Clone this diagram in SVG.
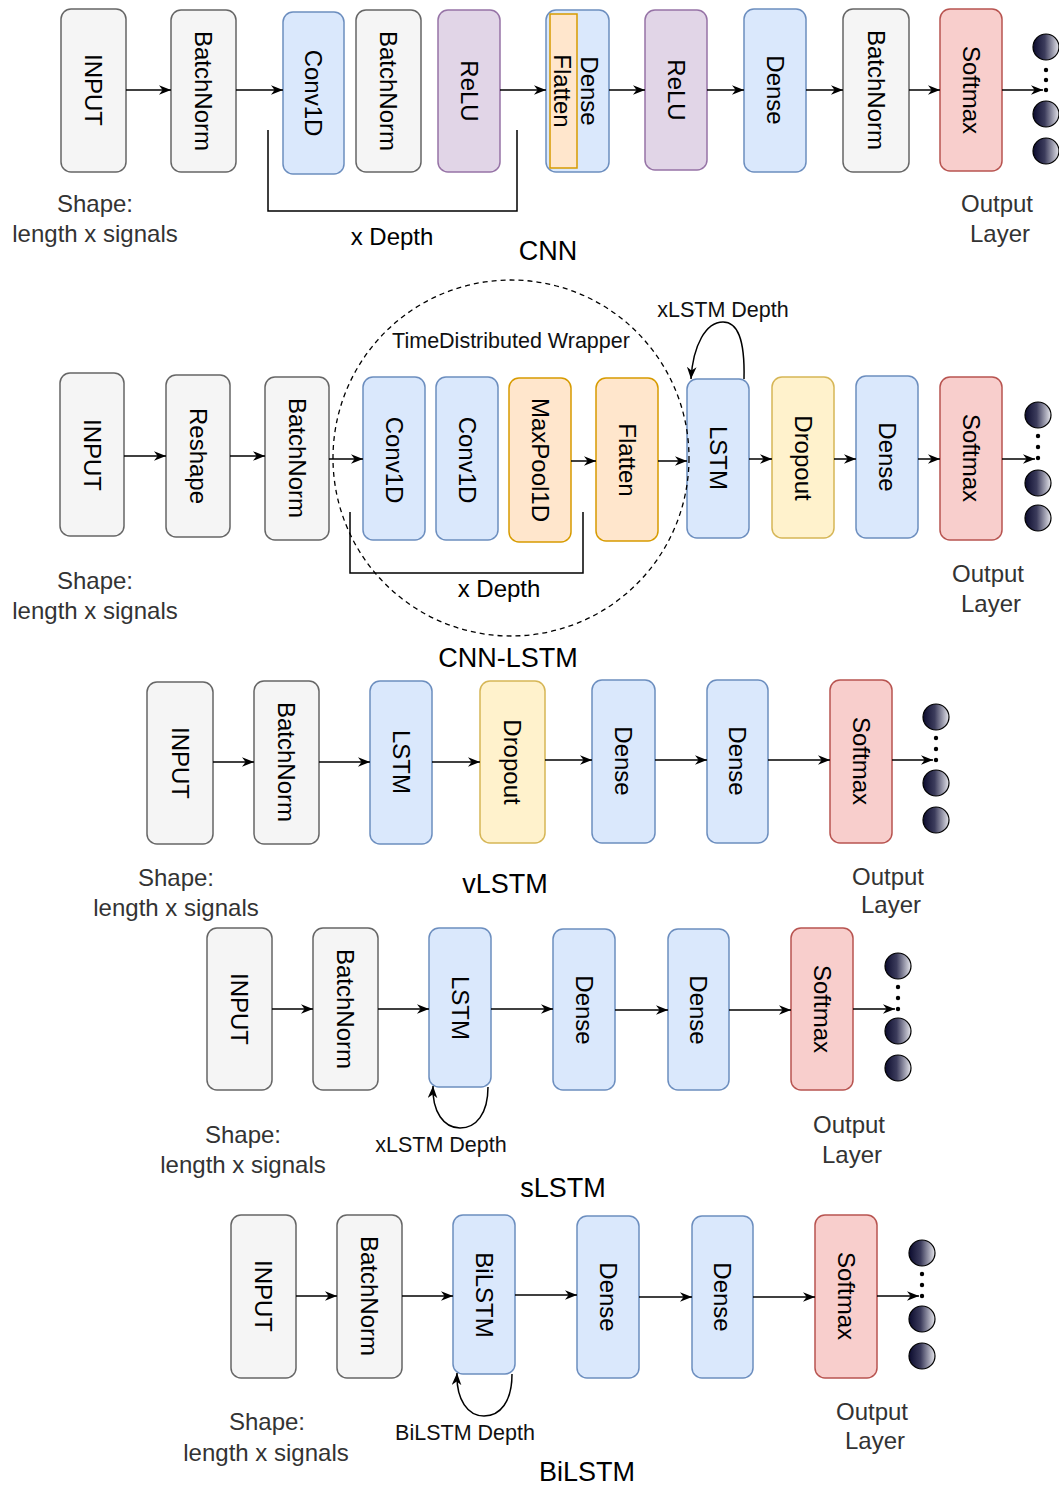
<svg xmlns="http://www.w3.org/2000/svg" width="1059" height="1487" viewBox="0 0 1059 1487">
<style>
.n{stroke-width:1.5}
.g{fill:#f5f5f5;stroke:#666666}
.b{fill:#dae8fc;stroke:#6c8ebf}
.p{fill:#e1d5e7;stroke:#9673a6}
.o{fill:#ffe6cc;stroke:#d79b00}
.y{fill:#fff2cc;stroke:#d6b656}
.r{fill:#f8cecc;stroke:#b85450}
.t{font-family:"Liberation Sans",Arial,sans-serif;font-size:24px;fill:#000;text-anchor:middle;dominant-baseline:central}
.l{font-family:"Liberation Sans",Arial,sans-serif;font-size:24px;fill:#333;text-anchor:middle}
.s{font-family:"Liberation Sans",Arial,sans-serif;font-size:21.5px;fill:#111;text-anchor:middle}
.h{font-family:"Liberation Sans",Arial,sans-serif;font-size:27px;fill:#000;text-anchor:middle}
.c{fill:none;stroke:#000;stroke-width:1.5}
.a{fill:none;stroke:#000;stroke-width:1.5;marker-end:url(#arr)}
.ci{fill:url(#cg);stroke:#000;stroke-width:1.2}
.d{fill:#000}
</style>
<defs>
<marker id="arr" viewBox="0 0 10 8" refX="10" refY="4" markerWidth="12" markerHeight="10" orient="auto" markerUnits="userSpaceOnUse"><path d="M0,0 L10,4 L0,8 L3,4 Z" fill="#000"/></marker>
<linearGradient id="cg" x1="0" y1="0" x2="1" y2="0"><stop offset="0" stop-color="#0b0b2e"/><stop offset="0.45" stop-color="#3c3c5c"/><stop offset="1" stop-color="#e6e6ec"/></linearGradient>
</defs>

<!-- ROW 1: CNN -->
<g id="cnn-input"><rect class="n g" x="61" y="9" width="65" height="163" rx="10"/><text class="t" x="93.5" y="90" transform="rotate(90 93.5 90)">INPUT</text></g>
<g id="cnn-bn1"><rect class="n g" x="171" y="10" width="65" height="162" rx="10"/><text class="t" x="203.5" y="91" transform="rotate(90 203.5 91)">BatchNorm</text></g>
<g id="cnn-conv"><rect class="n b" x="283" y="12" width="61" height="162" rx="10"/><text class="t" x="313.5" y="93" transform="rotate(90 313.5 93)">Conv1D</text></g>
<g id="cnn-bn2"><rect class="n g" x="356" y="10" width="65" height="162" rx="10"/><text class="t" x="388.5" y="91" transform="rotate(90 388.5 91)">BatchNorm</text></g>
<g id="cnn-relu1"><rect class="n p" x="438" y="10" width="62" height="162" rx="10"/><text class="t" x="469" y="91" transform="rotate(90 469 91)">ReLU</text></g>
<g id="cnn-dense-flatten"><rect class="n b" x="546" y="10" width="63" height="162" rx="10"/><rect class="n o" x="550" y="14" width="27" height="154"/><text class="t" x="589" y="91" transform="rotate(90 589 91)">Dense</text><text class="t" x="562" y="91" transform="rotate(90 562 91)">Flatten</text></g>
<g id="cnn-relu2"><rect class="n p" x="645" y="10" width="62" height="160" rx="10"/><text class="t" x="676" y="90" transform="rotate(90 676 90)">ReLU</text></g>
<g id="cnn-dense"><rect class="n b" x="744" y="9" width="62" height="163" rx="10"/><text class="t" x="775" y="90" transform="rotate(90 775 90)">Dense</text></g>
<g id="cnn-bn3"><rect class="n g" x="843" y="9" width="66" height="163" rx="10"/><text class="t" x="876" y="90" transform="rotate(90 876 90)">BatchNorm</text></g>
<g id="cnn-softmax"><rect class="n r" x="940" y="9" width="62" height="162" rx="10"/><text class="t" x="971" y="90" transform="rotate(90 971 90)">Softmax</text></g>
<g id="cnn-output"><circle class="ci" cx="1046" cy="47" r="13"/><circle class="ci" cx="1046" cy="114" r="13"/><circle class="ci" cx="1046" cy="151" r="13"/><circle class="d" cx="1046" cy="70" r="2.2"/><circle class="d" cx="1046" cy="80" r="2.2"/><circle class="d" cx="1046" cy="90" r="2.2"/></g>
<g id="cnn-labels">
<text class="l" x="95" y="212">Shape:</text><text class="l" x="95" y="242">length x signals</text>
<text class="l" x="997" y="212">Output</text><text class="l" x="1000" y="242">Layer</text>
<text class="l" x="392" y="245" style="fill:#000">x Depth</text>
<text class="h" x="548" y="260">CNN</text>
</g>

<!-- ROW 2: CNN-LSTM -->
<g id="cl-input"><rect class="n g" x="60" y="373" width="64" height="163" rx="10"/><text class="t" x="92" y="455" transform="rotate(90 92 455)">INPUT</text></g>
<g id="cl-reshape"><rect class="n g" x="166" y="375" width="64" height="162" rx="10"/><text class="t" x="198" y="456" transform="rotate(90 198 456)">Reshape</text></g>
<g id="cl-bn"><rect class="n g" x="265" y="377" width="64" height="163" rx="10"/><text class="t" x="297" y="458" transform="rotate(90 297 458)">BatchNorm</text></g>
<g id="cl-conv1"><rect class="n b" x="363" y="377" width="62" height="163" rx="10"/><text class="t" x="394" y="460" transform="rotate(90 394 460)">Conv1D</text></g>
<g id="cl-conv2"><rect class="n b" x="436" y="377" width="62" height="163" rx="10"/><text class="t" x="467" y="460" transform="rotate(90 467 460)">Conv1D</text></g>
<g id="cl-maxpool"><rect class="n o" x="509" y="378" width="62" height="164" rx="10"/><text class="t" x="540" y="460" transform="rotate(90 540 460)">MaxPool1D</text></g>
<g id="cl-flatten"><rect class="n o" x="596" y="378" width="62" height="163" rx="10"/><text class="t" x="627" y="460" transform="rotate(90 627 460)">Flatten</text></g>
<g id="cl-lstm"><rect class="n b" x="687" y="379" width="62" height="159" rx="10"/><text class="t" x="718" y="458" transform="rotate(90 718 458)">LSTM</text></g>
<g id="cl-dropout"><rect class="n y" x="772" y="377" width="62" height="161" rx="10"/><text class="t" x="803" y="458" transform="rotate(90 803 458)">Dropout</text></g>
<g id="cl-dense"><rect class="n b" x="856" y="376" width="62" height="162" rx="10"/><text class="t" x="887" y="457" transform="rotate(90 887 457)">Dense</text></g>
<g id="cl-softmax"><rect class="n r" x="940" y="377" width="62" height="163" rx="10"/><text class="t" x="971" y="458" transform="rotate(90 971 458)">Softmax</text></g>
<g id="cl-output"><circle class="ci" cx="1038" cy="415" r="13"/><circle class="ci" cx="1038" cy="483" r="13"/><circle class="ci" cx="1038" cy="518" r="13"/><circle class="d" cx="1038" cy="436" r="2.2"/><circle class="d" cx="1038" cy="447" r="2.2"/><circle class="d" cx="1038" cy="458" r="2.2"/></g>
<g id="cl-wrapper"><circle cx="511" cy="458" r="178" fill="none" stroke="#000" stroke-width="1.3" stroke-dasharray="5,4"/></g>
<g id="cl-labels">
<text class="s" x="511" y="348">TimeDistributed Wrapper</text>
<text class="s" x="723" y="317">xLSTM Depth</text>
<text class="l" x="95" y="589">Shape:</text><text class="l" x="95" y="619">length x signals</text>
<text class="l" x="988" y="582">Output</text><text class="l" x="991" y="612">Layer</text>
<text class="l" x="499" y="597" style="fill:#000">x Depth</text>
<text class="h" x="508" y="667">CNN-LSTM</text>
</g>

<!-- ROW 3: vLSTM -->
<g id="v-input"><rect class="n g" x="147" y="682" width="66" height="162" rx="10"/><text class="t" x="180" y="763" transform="rotate(90 180 763)">INPUT</text></g>
<g id="v-bn"><rect class="n g" x="254" y="681" width="65" height="163" rx="10"/><text class="t" x="286.5" y="762" transform="rotate(90 286.5 762)">BatchNorm</text></g>
<g id="v-lstm"><rect class="n b" x="370" y="681" width="62" height="163" rx="10"/><text class="t" x="401" y="762" transform="rotate(90 401 762)">LSTM</text></g>
<g id="v-dropout"><rect class="n y" x="480" y="681" width="65" height="162" rx="10"/><text class="t" x="512.5" y="762" transform="rotate(90 512.5 762)">Dropout</text></g>
<g id="v-dense1"><rect class="n b" x="592" y="680" width="63" height="163" rx="10"/><text class="t" x="623.5" y="761" transform="rotate(90 623.5 761)">Dense</text></g>
<g id="v-dense2"><rect class="n b" x="707" y="680" width="61" height="163" rx="10"/><text class="t" x="737.5" y="761" transform="rotate(90 737.5 761)">Dense</text></g>
<g id="v-softmax"><rect class="n r" x="830" y="680" width="62" height="163" rx="10"/><text class="t" x="861" y="761" transform="rotate(90 861 761)">Softmax</text></g>
<g id="v-output"><circle class="ci" cx="936" cy="717" r="13"/><circle class="ci" cx="936" cy="783" r="13"/><circle class="ci" cx="936" cy="820" r="13"/><circle class="d" cx="936" cy="738" r="2.2"/><circle class="d" cx="936" cy="749" r="2.2"/><circle class="d" cx="936" cy="760" r="2.2"/></g>
<g id="v-labels">
<text class="l" x="176" y="886">Shape:</text><text class="l" x="176" y="916">length x signals</text>
<text class="l" x="888" y="885">Output</text><text class="l" x="891" y="913">Layer</text>
<text class="h" x="505" y="893">vLSTM</text>
</g>

<!-- ROW 4: sLSTM -->
<g id="s-input"><rect class="n g" x="207" y="928" width="65" height="162" rx="10"/><text class="t" x="239.5" y="1009" transform="rotate(90 239.5 1009)">INPUT</text></g>
<g id="s-bn"><rect class="n g" x="313" y="928" width="65" height="162" rx="10"/><text class="t" x="345.5" y="1009" transform="rotate(90 345.5 1009)">BatchNorm</text></g>
<g id="s-lstm"><rect class="n b" x="429" y="928" width="62" height="159" rx="10"/><text class="t" x="460" y="1008" transform="rotate(90 460 1008)">LSTM</text></g>
<g id="s-dense1"><rect class="n b" x="553" y="929" width="62" height="161" rx="10"/><text class="t" x="584" y="1010" transform="rotate(90 584 1010)">Dense</text></g>
<g id="s-dense2"><rect class="n b" x="668" y="929" width="61" height="161" rx="10"/><text class="t" x="698.5" y="1010" transform="rotate(90 698.5 1010)">Dense</text></g>
<g id="s-softmax"><rect class="n r" x="791" y="928" width="62" height="162" rx="10"/><text class="t" x="822" y="1009" transform="rotate(90 822 1009)">Softmax</text></g>
<g id="s-output"><circle class="ci" cx="898" cy="966" r="13"/><circle class="ci" cx="898" cy="1031" r="13"/><circle class="ci" cx="898" cy="1068" r="13"/><circle class="d" cx="898" cy="987" r="2.2"/><circle class="d" cx="898" cy="998" r="2.2"/><circle class="d" cx="898" cy="1009" r="2.2"/></g>
<g id="s-labels">
<text class="l" x="243" y="1143">Shape:</text><text class="l" x="243" y="1173">length x signals</text>
<text class="s" x="441" y="1152">xLSTM Depth</text>
<text class="l" x="849" y="1133">Output</text><text class="l" x="852" y="1163">Layer</text>
<text class="h" x="563" y="1197">sLSTM</text>
</g>

<!-- ROW 5: BiLSTM -->
<g id="bi-input"><rect class="n g" x="231" y="1215" width="65" height="163" rx="10"/><text class="t" x="263.5" y="1296" transform="rotate(90 263.5 1296)">INPUT</text></g>
<g id="bi-bn"><rect class="n g" x="337" y="1215" width="65" height="163" rx="10"/><text class="t" x="369.5" y="1296" transform="rotate(90 369.5 1296)">BatchNorm</text></g>
<g id="bi-bilstm"><rect class="n b" x="453" y="1215" width="62" height="159" rx="10"/><text class="t" x="484" y="1295" transform="rotate(90 484 1295)">BiLSTM</text></g>
<g id="bi-dense1"><rect class="n b" x="577" y="1216" width="62" height="162" rx="10"/><text class="t" x="608" y="1297" transform="rotate(90 608 1297)">Dense</text></g>
<g id="bi-dense2"><rect class="n b" x="692" y="1216" width="61" height="162" rx="10"/><text class="t" x="722.5" y="1297" transform="rotate(90 722.5 1297)">Dense</text></g>
<g id="bi-softmax"><rect class="n r" x="815" y="1215" width="62" height="163" rx="10"/><text class="t" x="846" y="1296" transform="rotate(90 846 1296)">Softmax</text></g>
<g id="bi-output"><circle class="ci" cx="922" cy="1253" r="13"/><circle class="ci" cx="922" cy="1319" r="13"/><circle class="ci" cx="922" cy="1356" r="13"/><circle class="d" cx="922" cy="1274" r="2.2"/><circle class="d" cx="922" cy="1285" r="2.2"/><circle class="d" cx="922" cy="1296" r="2.2"/></g>
<g id="bi-labels">
<text class="l" x="267" y="1430">Shape:</text><text class="l" x="266" y="1461">length x signals</text>
<text class="s" x="465" y="1440">BiLSTM Depth</text>
<text class="l" x="872" y="1420">Output</text><text class="l" x="875" y="1449">Layer</text>
<text class="h" x="587" y="1481">BiLSTM</text>
</g>

<!-- CONNECTORS -->
<g id="connectors">
<line class="a" x1="126" y1="90" x2="171" y2="90"/>
<line class="a" x1="236" y1="90" x2="283" y2="90"/>
<line class="a" x1="500" y1="90" x2="546" y2="90"/>
<line class="a" x1="609" y1="90" x2="645" y2="90"/>
<line class="a" x1="707" y1="90" x2="744" y2="90"/>
<line class="a" x1="806" y1="90" x2="843" y2="90"/>
<line class="a" x1="909" y1="90" x2="940" y2="90"/>
<line class="a" x1="1002" y1="90" x2="1043" y2="90"/>
<polyline class="c" points="268,130 268,211 517,211 517,130"/>

<line class="a" x1="124" y1="456" x2="166" y2="456"/>
<line class="a" x1="230" y1="456" x2="265" y2="456"/>
<line class="a" x1="329" y1="459" x2="363" y2="459"/>
<line class="a" x1="571" y1="461" x2="596" y2="461"/>
<line class="a" x1="658" y1="461" x2="687" y2="461"/>
<line class="a" x1="749" y1="459" x2="772" y2="459"/>
<line class="a" x1="834" y1="459" x2="856" y2="459"/>
<line class="a" x1="918" y1="459" x2="940" y2="459"/>
<line class="a" x1="1002" y1="459" x2="1035" y2="459"/>
<polyline class="c" points="350,512 350,573 583,573 583,512"/>
<path class="a" d="M744,379 C745,338 737,322 723,322 C706,322 693,345 691,379"/>

<line class="a" x1="213" y1="762" x2="254" y2="762"/>
<line class="a" x1="319" y1="762" x2="370" y2="762"/>
<line class="a" x1="432" y1="762" x2="480" y2="762"/>
<line class="a" x1="545" y1="760" x2="592" y2="760"/>
<line class="a" x1="655" y1="760" x2="707" y2="760"/>
<line class="a" x1="768" y1="760" x2="830" y2="760"/>
<line class="a" x1="892" y1="760" x2="933" y2="760"/>

<line class="a" x1="272" y1="1009" x2="313" y2="1009"/>
<line class="a" x1="378" y1="1009" x2="429" y2="1009"/>
<line class="a" x1="491" y1="1009" x2="553" y2="1009"/>
<line class="a" x1="615" y1="1010" x2="668" y2="1010"/>
<line class="a" x1="729" y1="1010" x2="791" y2="1010"/>
<line class="a" x1="853" y1="1009" x2="895" y2="1009"/>
<path class="a" d="M488,1087 C488,1114 476,1128 460,1128 C444,1128 432,1112 433,1086"/>

<line class="a" x1="296" y1="1296" x2="337" y2="1296"/>
<line class="a" x1="402" y1="1296" x2="453" y2="1296"/>
<line class="a" x1="515" y1="1295" x2="577" y2="1295"/>
<line class="a" x1="639" y1="1297" x2="692" y2="1297"/>
<line class="a" x1="753" y1="1297" x2="815" y2="1297"/>
<line class="a" x1="877" y1="1296" x2="919" y2="1296"/>
<path class="a" d="M512,1374 C512,1402 500,1416 484,1416 C468,1416 456,1400 457,1373"/>
</g>
</svg>
